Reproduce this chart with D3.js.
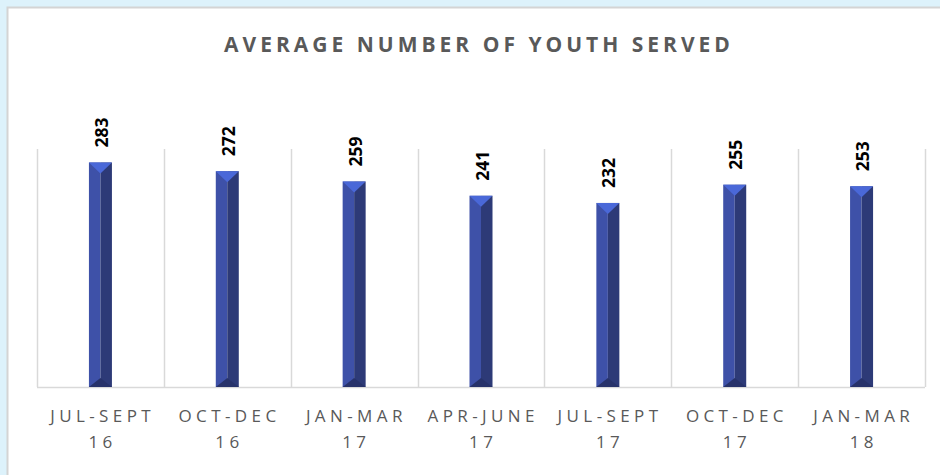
<!DOCTYPE html>
<html>
<head>
<meta charset="utf-8">
<script src="https://cdn.jsdelivr.net/npm/d3@7"></script>
<style>
  html, body { margin: 0; padding: 0; background: #ddf2fb; }
  svg { display: block; }
</style>
</head>
<body>
<svg id="chart" width="940" height="475"></svg>
<script>
// chart data
const quarters = ["JUL-SEPT", "OCT-DEC", "JAN-MAR", "APR-JUNE", "JUL-SEPT", "OCT-DEC", "JAN-MAR"];
const years = ["16", "16", "17", "17", "17", "17", "18"];
const youthServed = [283, 272, 259, 241, 232, 255, 253];
const yDomain = [0, 300];

const svg = d3.select("#chart");
const W = 940, H = 475;

// white panel with grey border
svg.append("rect")
  .attr("x", 7.5).attr("y", 7.5)
  .attr("width", W).attr("height", H)
  .attr("fill", "#ffffff")
  .attr("stroke", "#d4d4d4")
  .attr("stroke-width", 2);

// title
svg.append("text")
  .attr("x", 479).attr("y", 52)
  .attr("text-anchor", "middle")
  .attr("font-family", "'Open Sans', sans-serif")
  .attr("font-weight", "bold")
  .attr("font-size", 21)
  .attr("letter-spacing", 4)
  .attr("fill", "#595959")
  .text("AVERAGE NUMBER OF YOUTH SERVED");

const plot = { left: 37, right: 925, top: 149, bottom: 387 };

const x = d3.scaleBand()
  .domain(d3.range(youthServed.length))
  .range([plot.left, plot.right]);

const y = d3.scaleLinear()
  .domain(yDomain)
  .range([plot.bottom, plot.top]);

const g = svg.append("g");

// vertical category gridlines
const bounds = d3.range(youthServed.length + 1).map(i => i < youthServed.length ? x(i) : x(i - 1) + x.bandwidth());
g.selectAll("line.grid")
  .data(bounds)
  .enter().append("line")
  .attr("class", "grid")
  .attr("x1", d => Math.round(d) + 0.5).attr("x2", d => Math.round(d) + 0.5)
  .attr("y1", y(yDomain[1])).attr("y2", plot.bottom)
  .attr("stroke", "#d9d9d9").attr("stroke-width", 1.5);

// baseline
g.append("line")
  .attr("x1", plot.left).attr("x2", plot.right)
  .attr("y1", plot.bottom + 0.5).attr("y2", plot.bottom + 0.5)
  .attr("stroke", "#d9d9d9").attr("stroke-width", 1.5);

// bevelled bars
const bw = 23;
const bars = g.selectAll("g.bar")
  .data(youthServed)
  .enter().append("g")
  .attr("class", "bar")
  .attr("transform", (d, i) => `translate(${x(i) + x.bandwidth() / 2},0)`);

bars.append("rect")
  .attr("x", -bw / 2).attr("width", bw / 2)
  .attr("y", d => y(d)).attr("height", d => y(0) - y(d))
  .attr("fill", "#3e51a8");
bars.append("rect")
  .attr("x", 0).attr("width", bw / 2)
  .attr("y", d => y(d)).attr("height", d => y(0) - y(d))
  .attr("fill", "#2d3a77");
// top bevel
bars.append("path")
  .attr("d", d => `M${-bw / 2},${y(d)} L${bw / 2},${y(d)} L0,${y(d) + 11} Z`)
  .attr("fill", "#4a68d8");
// bottom bevel
bars.append("path")
  .attr("d", d => `M${-bw / 2},${y(0)} L${bw / 2},${y(0)} L0,${y(0) - 9} Z`)
  .attr("fill", "#27326a");

// value labels (rotated)
bars.append("text")
  .attr("transform", d => `translate(7.5,${y(d) - 15}) rotate(-90)`)
  .attr("font-family", "'Open Sans', sans-serif")
  .attr("font-weight", "bold")
  .attr("font-size", 17.5)
  .attr("fill", "#000000")
  .text(d => d);

// x axis labels
const xl = g.selectAll("text.xl")
  .data(quarters)
  .enter().append("text")
  .attr("class", "xl")
  .attr("text-anchor", "middle")
  .attr("font-family", "'Open Sans', sans-serif")
  .attr("font-size", 17)
  .attr("fill", "#595959")
  .attr("letter-spacing", 4.4);
xl.append("tspan")
  .attr("x", (d, i) => x(i) + x.bandwidth() / 2 + 2.2)
  .attr("y", 422)
  .text(d => d);
xl.append("tspan")
  .attr("x", (d, i) => x(i) + x.bandwidth() / 2 + 2.2)
  .attr("y", 448)
  .text((d, i) => years[i]);
</script>
</body>
</html>
